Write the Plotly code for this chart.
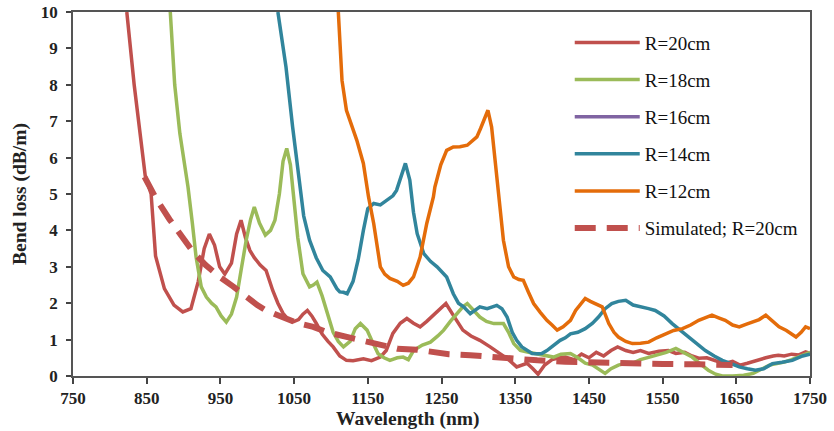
import plotly.graph_objects as go

# Measured bend loss (dB/m) versus wavelength (nm) for several bend radii
r20_wl = [823, 833, 848, 856, 862, 874, 887, 899, 910, 920, 928, 935, 942, 949, 956, 965, 972, 978,
          984, 990, 996, 1004, 1012, 1021, 1028, 1035, 1042, 1048, 1056, 1062, 1068, 1074, 1080, 1088,
          1096, 1103, 1112, 1121, 1130, 1144, 1155, 1167, 1175, 1184, 1194, 1203, 1212, 1221, 1230,
          1239, 1248, 1256, 1265, 1279, 1290, 1302, 1316, 1330, 1341, 1352, 1360, 1366, 1374, 1381,
          1390, 1400, 1410, 1418, 1430, 1440, 1450, 1460, 1470, 1480, 1489, 1500, 1510, 1520, 1531,
          1545, 1558, 1568, 1580, 1590, 1599, 1610, 1622, 1635, 1645, 1655, 1665, 1671, 1680, 1690,
          1700, 1707, 1715, 1725, 1735, 1744, 1750]
r20_loss = [10, 8.0, 5.5, 5.0, 3.3, 2.4, 1.95, 1.76, 1.85, 2.6, 3.5, 3.9, 3.6, 3.0, 2.8, 3.1, 3.9, 4.28,
            3.8, 3.45, 3.25, 3.05, 2.9, 2.35, 2.0, 1.72, 1.55, 1.48, 1.55, 1.7, 1.8, 1.65, 1.45, 1.15,
            0.95, 0.8, 0.55, 0.43, 0.42, 0.47, 0.42, 0.52, 0.7, 1.17, 1.45, 1.58, 1.45, 1.35, 1.5,
            1.67, 1.85, 1.99, 1.7, 1.26, 1.1, 0.98, 0.8, 0.61, 0.45, 0.25, 0.3, 0.35, 0.2, 0.05,
            0.3, 0.45, 0.5, 0.52, 0.45, 0.6, 0.5, 0.65, 0.55, 0.7, 0.8, 0.7, 0.65, 0.7, 0.62,
            0.68, 0.7, 0.62, 0.65, 0.55, 0.49, 0.5, 0.42, 0.35, 0.4, 0.3, 0.35, 0.39, 0.45, 0.5,
            0.55, 0.57, 0.55, 0.6, 0.58, 0.66, 0.62]

r18_wl = [882, 888, 895, 906, 912, 917, 924, 931, 938, 944, 951, 958, 965, 972, 978, 985, 991, 996,
          1003, 1011, 1018, 1024, 1030, 1035, 1040, 1045, 1049, 1055, 1062, 1071, 1076, 1081, 1088,
          1094, 1103, 1110, 1117, 1126, 1133, 1140, 1149, 1156, 1164, 1172, 1180, 1190, 1198, 1205,
          1212, 1224, 1235, 1245, 1253, 1262, 1271, 1279, 1285, 1293, 1302, 1311, 1321, 1334, 1341,
          1348, 1357, 1368, 1380, 1392, 1402, 1412, 1425, 1435, 1445, 1455, 1463, 1472, 1480, 1490,
          1500, 1509, 1520, 1531, 1545, 1555, 1568, 1578, 1590, 1600, 1612, 1622, 1631, 1645, 1660,
          1673, 1685, 1695, 1705, 1715, 1725, 1738, 1750]
r18_loss = [10, 8.0, 6.66, 5.2, 4.19, 3.27, 2.45, 2.17, 2.0, 1.9, 1.65, 1.48, 1.7, 2.17, 2.9, 3.73, 4.3, 4.64,
            4.2, 3.87, 4.0, 4.28, 5.0, 5.9, 6.25, 5.8, 5.0, 3.8, 2.81, 2.45, 2.5, 2.58, 2.2,
            1.8, 1.2, 0.95, 0.8, 0.95, 1.3, 1.44, 1.26, 0.95, 0.61, 0.5, 0.43, 0.5, 0.52, 0.45,
            0.7, 0.85, 0.93, 1.1, 1.26, 1.5, 1.71, 1.9, 1.99, 1.8, 1.62, 1.5, 1.44, 1.44, 1.2,
            0.89, 0.7, 0.65, 0.61, 0.55, 0.52, 0.6, 0.62, 0.5, 0.35, 0.3, 0.2, 0.07, 0.2, 0.3,
            0.35, 0.35, 0.45, 0.52, 0.6, 0.65, 0.76, 0.65, 0.52, 0.35, 0.16, 0.05, 0.0, 0.0, 0.02,
            0.07, 0.2, 0.3, 0.34, 0.38, 0.45, 0.55, 0.65]

# No R=16cm measurement is plotted; the series only appears in the legend
r16_wl = [None]
r16_loss = [None]

r14_wl = [1028, 1039, 1048, 1057, 1063, 1071, 1080, 1089, 1099, 1108, 1112, 1117, 1122, 1130, 1137,
          1144, 1150, 1158, 1167, 1176, 1184, 1189, 1195, 1201, 1207, 1212, 1217, 1226, 1235, 1244,
          1257, 1266, 1273, 1280, 1289, 1296, 1302, 1312, 1325, 1332, 1339, 1346, 1352, 1359, 1366,
          1373, 1380, 1386, 1393, 1402, 1411, 1418, 1425, 1435, 1445, 1455, 1463, 1472, 1481, 1490,
          1500, 1510, 1522, 1531, 1540, 1552, 1563, 1575, 1586, 1597, 1608, 1620, 1631, 1642, 1654,
          1665, 1676, 1687, 1699, 1712, 1726, 1740, 1750]
r14_loss = [10, 8.49, 6.84, 5.38, 4.4, 3.73, 3.25, 2.9, 2.72, 2.4, 2.31, 2.3, 2.26, 2.6, 3.2,
            4.0, 4.6, 4.74, 4.7, 4.83, 4.95, 5.1, 5.5, 5.84, 5.38, 4.5, 3.91, 3.36, 3.15, 3.0,
            2.72, 2.26, 2.0, 1.9, 1.71, 1.8, 1.9, 1.85, 1.94, 1.85, 1.62, 1.2, 0.98, 0.8, 0.7,
            0.62, 0.61, 0.62, 0.7, 0.85, 0.98, 1.05, 1.16, 1.2, 1.3, 1.45, 1.62, 1.85, 1.99, 2.05,
            2.08, 1.95, 1.9, 1.85, 1.8, 1.65, 1.44, 1.25, 1.07, 0.9, 0.7, 0.55, 0.43, 0.35, 0.25,
            0.2, 0.16, 0.2, 0.34, 0.38, 0.43, 0.55, 0.6]

r12_wl = [1110, 1115, 1121, 1128, 1135, 1144, 1149, 1151, 1158, 1163, 1167, 1173, 1180, 1190, 1198,
          1205, 1212, 1221, 1230, 1239, 1241, 1249, 1257, 1266, 1275, 1285, 1292, 1298, 1303, 1307,
          1313, 1318, 1323, 1327, 1334, 1341, 1348, 1355, 1361, 1368, 1375, 1384, 1393, 1400, 1407,
          1415, 1425, 1432, 1440, 1445, 1452, 1459, 1468, 1472, 1477, 1484, 1490, 1500, 1509, 1520,
          1531, 1542, 1554, 1565, 1577, 1588, 1599, 1608, 1617, 1626, 1635, 1645, 1654, 1663, 1672,
          1681, 1690, 1699, 1708, 1718, 1725, 1731, 1738, 1744, 1750]
r12_loss = [10, 8.12, 7.3, 6.9, 6.48, 5.84, 5.19, 4.92, 4.19, 3.5, 3.0, 2.8, 2.68, 2.6, 2.49,
            2.55, 2.72, 3.27, 4.19, 4.92, 5.19, 5.8, 6.2, 6.29, 6.3, 6.34, 6.45, 6.57, 6.8, 7.02,
            7.3, 6.84, 5.93, 5.19, 3.73, 3.0, 2.72, 2.65, 2.63, 2.3, 1.99, 1.75, 1.53, 1.4, 1.26,
            1.35, 1.53, 1.8, 2.0, 2.13, 2.05, 1.99, 1.9, 1.7, 1.44, 1.2, 1.07, 0.95, 0.89, 0.9,
            0.93, 1.05, 1.16, 1.25, 1.3, 1.4, 1.53, 1.6, 1.67, 1.6, 1.53, 1.4, 1.35, 1.42, 1.48,
            1.55, 1.67, 1.5, 1.35, 1.25, 1.15, 1.07, 1.2, 1.35, 1.3]

# Simulated bend loss for R=20cm
sim_wl = [847, 862, 881, 899, 913, 930, 949, 968, 985, 1000, 1012, 1025, 1039, 1055, 1076, 1095,
          1121, 1149, 1170, 1190, 1217, 1235, 1260, 1289, 1315, 1339, 1360, 1380, 1418, 1460, 1500,
          1550, 1600, 1645]
sim_loss = [5.47, 4.9, 4.3, 3.82, 3.41, 3.05, 2.72, 2.45, 2.17, 1.95, 1.8, 1.68, 1.58, 1.45, 1.35, 1.2,
            1.07, 0.93, 0.82, 0.75, 0.72, 0.66, 0.6, 0.57, 0.52, 0.48, 0.45, 0.43, 0.39, 0.36, 0.34,
            0.33, 0.32, 0.3]

x_ticks = [750, 850, 950, 1050, 1150, 1250, 1350, 1450, 1550, 1650, 1750]
y_ticks = [0, 1, 2, 3, 4, 5, 6, 7, 8, 9, 10]

series = [
    ("R=20cm", r20_wl, r20_loss, "#C0504D", "solid", 3.5),
    ("R=18cm", r18_wl, r18_loss, "#9BBB59", "solid", 3.5),
    ("R=16cm", r16_wl, r16_loss, "#8064A2", "solid", 3.5),
    ("R=14cm", r14_wl, r14_loss, "#31859C", "solid", 3.5),
    ("R=12cm", r12_wl, r12_loss, "#E46C0A", "solid", 3.5),
    ("Simulated; R=20cm", sim_wl, sim_loss, "#C0504D", "21px,11px", 6),
]

fig = go.Figure()
for i, (name, xs, ys, color, dash, width) in enumerate(series):
    fig.add_trace(go.Scatter(
        x=xs, y=ys, mode="lines", name=name, legendgroup=f"g{i}",
        line=dict(color=color, width=width, dash=dash),
    ))

tick_font = dict(family="Liberation Serif", size=17, color="#222", weight="bold")
title_font = dict(family="Liberation Serif", size=19.5, color="#222", weight="bold")

fig.update_layout(
    width=834, height=431,
    margin=dict(l=73, r=24, t=12, b=55),
    paper_bgcolor="white", plot_bgcolor="white",
    showlegend=True,
    legend=dict(
        x=0.674, y=0.968, xanchor="left", yanchor="top",
        font=dict(family="Liberation Serif", size=19, color="#111"),
        bgcolor="rgba(0,0,0,0)", itemwidth=65, tracegroupgap=9.4,
    ),
    xaxis=dict(
        range=[750, 1750], tickvals=x_ticks, ticktext=[str(v) for v in x_ticks],
        showgrid=False, zeroline=False, showline=True, linecolor="#555", linewidth=2,
        mirror=True, ticks="outside", ticklen=6, tickcolor="#444", tickwidth=1.5,
        tickfont=tick_font, automargin=False,
    ),
    yaxis=dict(
        range=[0, 10], tickvals=y_ticks, ticktext=[str(v) for v in y_ticks],
        showgrid=False, zeroline=False, showline=True, linecolor="#555", linewidth=1.5,
        mirror=True, ticks="outside", ticklen=5, tickcolor="#444", tickwidth=1.5,
        tickfont=tick_font, automargin=False, ticklabelstandoff=5,
    ),
    annotations=[
        dict(text="Wavelength (nm)", xref="paper", yref="paper", x=0.4545, y=-0.118,
             xanchor="center", yanchor="middle", showarrow=False, font=title_font),
        dict(text="Bend loss (dB/m)", xref="paper", yref="paper", x=-0.072, y=0.5,
             xanchor="center", yanchor="middle", textangle=-90, showarrow=False, font=title_font),
    ],
)

fig.write_html("out.html")
